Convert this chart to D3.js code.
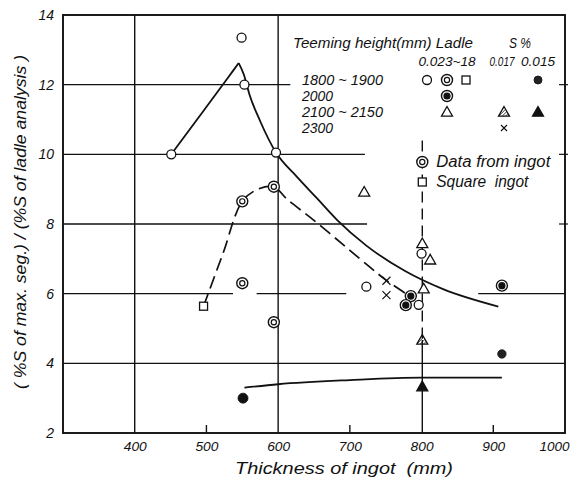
<!DOCTYPE html>
<html><head><meta charset="utf-8">
<script src="https://cdn.jsdelivr.net/npm/d3@7"></script>
<style>
html,body{margin:0;padding:0;background:#fff;}
svg text{font-family:"Liberation Sans","DejaVu Sans",sans-serif;font-style:italic;fill:#111;white-space:pre;}
</style></head><body>
<svg id="chart" width="578" height="483"></svg>
<script>
// Segregation ratio against ingot thickness, grouped by teeming height and ladle S %
const xTicks = [400, 500, 600, 700, 800, 900, 1000];
const yTicks = [2, 4, 6, 8, 10, 12, 14];

// teeming height 1800~1900, ladle S 0.023~0.018
const openCircles = [[451, 10.0], [549, 13.35], [553, 12.0], [597, 10.05], [723, 6.2], [800, 7.15], [796, 5.68]];
// data from ingot, 1800~1900
const ingotCircles = [[550, 8.65], [594, 9.07], [550, 6.3], [594, 5.18]];
// data from ingot, 2000
const ingot2000 = [[785, 5.93], [778, 5.67], [912, 6.23]];
// teeming height 2100~2150
const openTriangles = [[720, 8.92], [801, 7.44], [812, 6.97], [803, 6.14]];
const hatchedTriangles = [[801, 4.67]];
const filledTriangles = [[801, 3.33]];
// ladle S 0.015, 1800~1900
const filledCircles = [[551, 3.0], [912, 4.27]];
// square ingot
const squares = [[496, 5.64]];
// teeming height 2300
const crosses = [[751, 6.37], [751, 5.96]];

// fitted curves
const upperRise = [[451, 10.0], [495, 11.22], [530, 12.2], [545, 12.62]];
const upperFall = [[545, 12.62], [552, 12.3], [560, 11.72], [575, 10.95], [597, 10.05], [625, 9.38], [654, 8.74], [682, 8.12], [723, 7.38], [777, 6.65], [830, 6.13], [907, 5.63]];
const lowerCurve = [[553, 3.3], [600, 3.4], [700, 3.52], [800, 3.59], [912, 3.59]];
const ingotCurve = [[496, 5.64], [523, 7.15], [550, 8.65], [572, 9.0], [594, 9.07], [612, 8.72], [649, 8.12], [691, 7.4], [728, 6.76], [751, 6.38], [782, 5.95]];

const legendRows = ["1800 ~ 1900", "2000", "2100 ~ 2150", "2300"];
const legendCols = ["0.023~18", "0.017", "0.015"];

const svg = d3.select("#chart");
const x = d3.scaleLinear().domain([300, 1000]).range([63, 565]);
const y = d3.scaleLinear().domain([2, 14]).range([433, 15]);
const ink = "#111";

// text with a fixed drawn width, giving the narrow hand-lettered look
function label(sel, tx, ty, str, size, width, anchor) {
  const t = sel.append("text").attr("x", tx).attr("y", ty).attr("font-size", size)
    .attr("text-anchor", anchor || "start").text(str);
  if (width) t.attr("textLength", width).attr("lengthAdjust", "spacingAndGlyphs");
  return t;
}

// hatch for the 0.017 triangle
const defs = svg.append("defs");
defs.append("pattern").attr("id", "hatch").attr("patternUnits", "userSpaceOnUse")
  .attr("width", 2.4).attr("height", 2.4).attr("patternTransform", "rotate(45)")
  .append("line").attr("x1", 0).attr("y1", 0).attr("x2", 0).attr("y2", 2.4)
  .attr("stroke", ink).attr("stroke-width", 1.1);

// grid lines (extents in data units)
const hGrid = [
  {v: 12, spans: [[300, 617]]},
  {v: 10, spans: [[300, 721]]},
  {v: 8, spans: [[300, 724]]},
  {v: 6, spans: [[300, 537], [570, 695], [879, 1000]]},
  {v: 4, spans: [[300, 1000]]}
];
const g = svg.append("g");
hGrid.forEach(h => h.spans.forEach(s => {
  g.append("line").attr("x1", x(s[0])).attr("x2", x(s[1]))
    .attr("y1", y(h.v)).attr("y2", y(h.v))
    .attr("stroke", ink).attr("stroke-width", 1.4);
}));
// stubs on the right border
[12, 10, 8].forEach(v => {
  g.append("line").attr("x1", x(1000) - 6).attr("x2", x(1000) + 3)
    .attr("y1", y(v)).attr("y2", y(v)).attr("stroke", ink).attr("stroke-width", 1.2);
});
g.append("line").attr("x1", x(400)).attr("x2", x(400)).attr("y1", y(14)).attr("y2", y(2))
  .attr("stroke", ink).attr("stroke-width", 1.4);
g.append("line").attr("x1", x(600)).attr("x2", x(600)).attr("y1", y(14)).attr("y2", y(2))
  .attr("stroke", ink).attr("stroke-width", 1.4);
g.append("line").attr("x1", x(801)).attr("x2", x(801)).attr("y1", y(10.4)).attr("y2", y(4.67))
  .attr("stroke", ink).attr("stroke-width", 1.4).attr("stroke-dasharray", "11,6");
g.append("line").attr("x1", x(801)).attr("x2", x(801)).attr("y1", y(4.67)).attr("y2", y(2))
  .attr("stroke", ink).attr("stroke-width", 1.4);
// minor ticks from the bottom
[500, 700, 900].forEach(t => {
  g.append("line").attr("x1", x(t)).attr("x2", x(t)).attr("y1", y(2)).attr("y2", y(2) - 8)
    .attr("stroke", ink).attr("stroke-width", 1.4);
});

// frame
svg.append("rect").attr("x", x(300)).attr("y", y(14)).attr("width", x(1000) - x(300))
  .attr("height", y(2) - y(14)).attr("fill", "none").attr("stroke", ink).attr("stroke-width", 1.9);

// axis labels
const xAxis = svg.append("g").attr("transform", `translate(0,${y(2)})`)
  .call(d3.axisBottom(x).tickValues(xTicks).tickSize(0).tickPadding(9).tickFormat(d3.format("d")));
xAxis.select(".domain").remove();
xAxis.selectAll("text").attr("font-size", 13).attr("fill", ink)
  .attr("text-anchor", d => d === 1000 ? "end" : "middle")
  .attr("dx", d => d === 1000 ? 4 : 0)
  .attr("textLength", d => d === 1000 ? 30 : 23).attr("lengthAdjust", "spacingAndGlyphs");

const yAxis = svg.append("g").attr("transform", `translate(${x(300)},0)`)
  .call(d3.axisLeft(y).tickValues(yTicks).tickSize(0).tickPadding(9).tickFormat(d3.format("d")));
yAxis.select(".domain").remove();
yAxis.selectAll("text").attr("font-size", 14).attr("fill", ink);

label(svg, 344, 474, "Thickness of ingot  (mm)", 17, 218, "middle");
label(svg, 0, 0, "( %S of max. seg.) / (%S of ladle analysis )", 16, 334, "middle")
  .attr("x", null).attr("y", null).attr("transform", "translate(26,222) rotate(-90)");

// curves
const smooth = d3.line().x(d => x(d[0])).y(d => y(d[1])).curve(d3.curveMonotoneX);
const spline = d3.line().x(d => x(d[0])).y(d => y(d[1])).curve(d3.curveCatmullRom.alpha(0.5));
svg.append("path").attr("d", smooth(upperRise)).attr("fill", "none").attr("stroke", ink).attr("stroke-width", 1.8).attr("stroke-linejoin", "round");
svg.append("path").attr("d", smooth(upperFall)).attr("fill", "none").attr("stroke", ink).attr("stroke-width", 1.8).attr("stroke-linejoin", "round");
svg.append("path").attr("d", smooth(lowerCurve)).attr("fill", "none").attr("stroke", ink).attr("stroke-width", 1.8);
svg.append("path").attr("d", spline(ingotCurve)).attr("fill", "none").attr("stroke", ink)
  .attr("stroke-width", 1.7).attr("stroke-dasharray", "13,6");

// marker drawers
function openCircle(sel, cx, cy) {
  sel.append("circle").attr("cx", cx).attr("cy", cy).attr("r", 4.5).attr("fill", "#fff").attr("stroke", ink).attr("stroke-width", 1.3);
}
function doubleCircle(sel, cx, cy, solid) {
  sel.append("circle").attr("cx", cx).attr("cy", cy).attr("r", 5.5).attr("fill", "#fff").attr("stroke", ink).attr("stroke-width", 1.4);
  sel.append("circle").attr("cx", cx).attr("cy", cy).attr("r", solid ? 3 : 2.6)
    .attr("fill", solid ? ink : "#fff").attr("stroke", ink).attr("stroke-width", 1.2);
}
function triangle(sel, cx, cy, fill) {
  const s = 5.5;
  sel.append("path").attr("d", `M${cx},${cy - s}L${cx + s},${cy + s * 0.75}L${cx - s},${cy + s * 0.75}Z`)
    .attr("fill", fill).attr("stroke", ink).attr("stroke-width", 1.3).attr("stroke-linejoin", "miter");
}
function dot(sel, cx, cy, r, fill) {
  sel.append("circle").attr("cx", cx).attr("cy", cy).attr("r", r).attr("fill", fill).attr("stroke", ink).attr("stroke-width", 0.8);
}
function square(sel, cx, cy) {
  sel.append("rect").attr("x", cx - 4).attr("y", cy - 4).attr("width", 8).attr("height", 8)
    .attr("fill", "#fff").attr("stroke", ink).attr("stroke-width", 1.3);
}
function cross(sel, cx, cy, s) {
  sel.append("path").attr("d", `M${cx - s},${cy - s}L${cx + s},${cy + s}M${cx + s},${cy - s}L${cx - s},${cy + s}`)
    .attr("stroke", ink).attr("stroke-width", 1.2).attr("fill", "none");
}

const m = svg.append("g");
openCircles.forEach(d => openCircle(m, x(d[0]), y(d[1])));
ingotCircles.forEach(d => doubleCircle(m, x(d[0]), y(d[1]), false));
ingot2000.forEach(d => doubleCircle(m, x(d[0]), y(d[1]), true));
openTriangles.forEach(d => triangle(m, x(d[0]), y(d[1]), "#fff"));
hatchedTriangles.forEach(d => triangle(m, x(d[0]), y(d[1]), "url(#hatch)"));
filledTriangles.forEach(d => triangle(m, x(d[0]), y(d[1]), ink));
dot(m, x(filledCircles[0][0]), y(filledCircles[0][1]), 5, ink);
dot(m, x(filledCircles[1][0]), y(filledCircles[1][1]), 4.2, "#222");
squares.forEach(d => square(m, x(d[0]), y(d[1])));
crosses.forEach(d => cross(m, x(d[0]), y(d[1]), 4));

// legend
const lg = svg.append("g");
label(lg, 293, 48, "Teeming height(mm) Ladle", 15, 180);
label(lg, 509, 48, "S %", 15, 22);
const colX = [447, 502, 538];
const colW = [57, 25, 34];
legendCols.forEach((c, i) => label(lg, colX[i], 66, c, 13, colW[i], "middle"));
const rowY = [80, 96, 112, 128];
legendRows.forEach((r, i) => label(lg, 302, rowY[i] + 5, r, 15, r.length > 4 ? 81 : 31));
openCircle(lg, 427, rowY[0]);
doubleCircle(lg, 447, rowY[0], false);
square(lg, 466, rowY[0]);
dot(lg, 538, rowY[0], 4, "#222");
doubleCircle(lg, 447, rowY[1], true);
triangle(lg, 447, rowY[2], "#fff");
triangle(lg, 504, rowY[2], "url(#hatch)");
triangle(lg, 538, rowY[2], ink);
cross(lg, 504, rowY[3], 3);

doubleCircle(lg, x(801), 162, false);
label(lg, x(801) + 14, 167, "Data from ingot", 16, 114);
square(lg, x(801), 182);
label(lg, x(801) + 14, 187, "Square  ingot", 16, 92);
</script>
</body></html>
